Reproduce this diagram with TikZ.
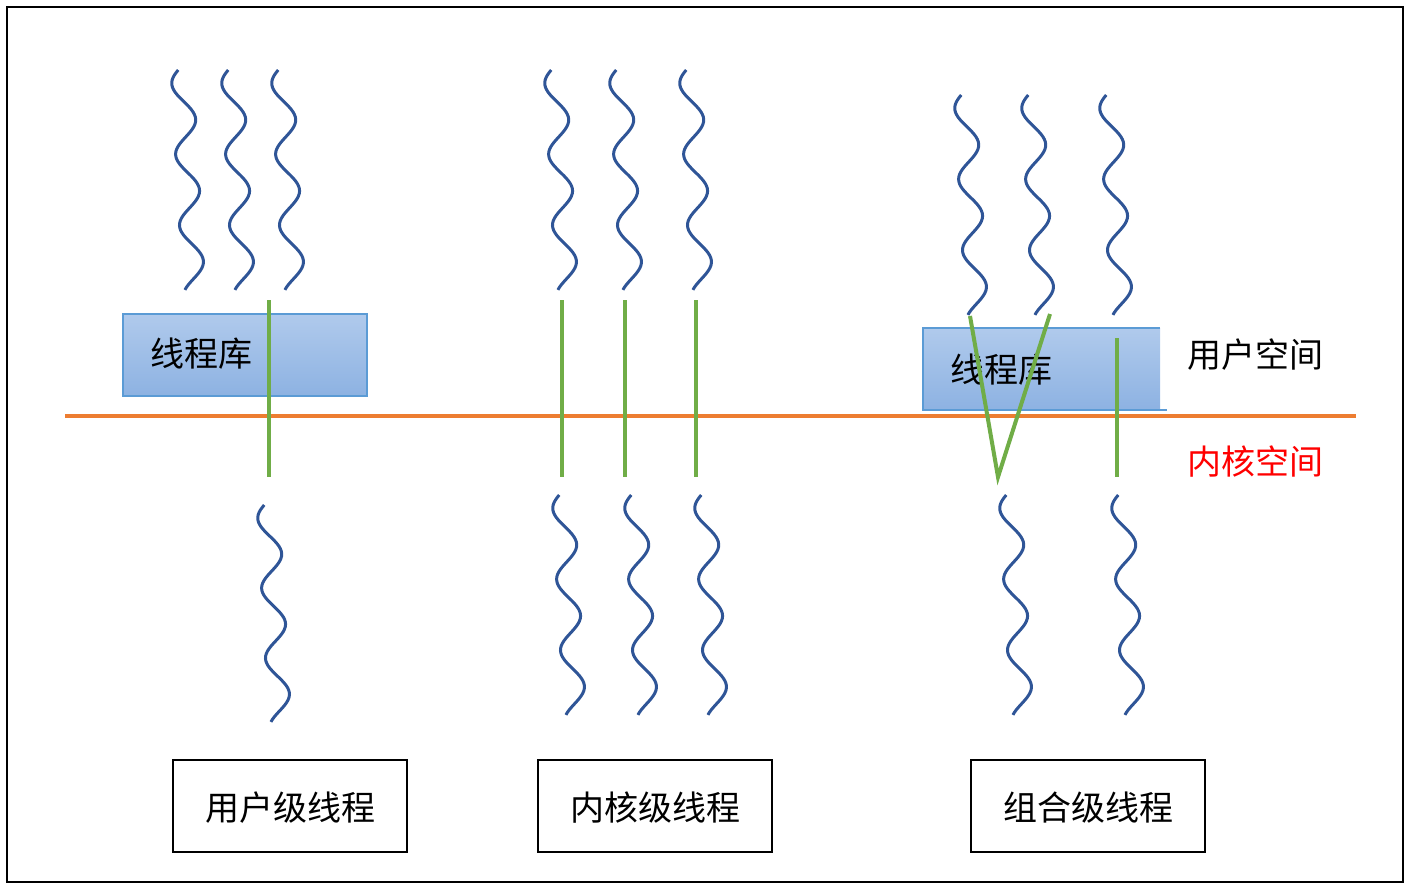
\documentclass[tikz,border=0pt]{standalone}
\usepackage{fontspec}
\setmainfont{Noto Sans CJK SC}
\begin{document}
\begin{tikzpicture}[x=0.5pt,y=-0.5pt]
\definecolor{wv}{RGB}{47,85,151}
\definecolor{gr}{RGB}{112,173,71}
\definecolor{og}{RGB}{237,125,49}
\definecolor{lbA}{RGB}{176,202,236}
\definecolor{lbB}{RGB}{141,178,226}
\definecolor{lbE}{RGB}{91,155,213}
\tikzset{
 wave/.style={wv,line width=1.5pt},
 gline/.style={gr,line width=2pt},
 lib/.style={draw=lbE,line width=0.6pt,top color=lbA,bottom color=lbB},
 kind/.style={draw=black,line width=0.6pt,minimum width=117pt,minimum height=46pt,text depth=0pt,font=\fontsize{17pt}{20pt}\selectfont},
 txt/.style={font=\fontsize{17pt}{20pt}\selectfont}
}
\newcommand{\wv}[3]{\draw[wave] plot[domain=0:1,samples=90,smooth,variable=\t] ({#1+10+11*sin(360*3.1*\t+200)+12*\t},{#2+(#3-#2)*\t});}
\useasboundingbox (0,0) rectangle (1411,888);
\draw[line width=1pt] (7,7) rectangle (1403,882);
% top waves
\foreach \p in {172,222,272} {\wv{\p}{70}{290}}
\foreach \p in {545,610,680} {\wv{\p}{70}{290}}
\foreach \p in {955,1022,1100} {\wv{\p}{95}{315}}
% bottom waves
\wv{258}{505}{722}
\foreach \p in {553,625,695} {\wv{\p}{495}{715}}
\foreach \p in {1000,1112} {\wv{\p}{495}{715}}
% libraries
\node[lib,minimum width=122pt,minimum height=41pt,inner sep=0pt] (lib1) at (245,355) {};
\node[txt] (lt1) at (201,354) {线程库};
\node[lib,draw=none,minimum width=118.5pt,minimum height=41pt,inner sep=0pt] (lib2) at (1041.5,369) {};
\draw[lbE,line width=0.6pt] (1160,328) -- (923,328) -- (923,410) -- (1167,410);
\node[txt] (lt2) at (1001,370) {线程库};
% kernel line
\coordinate (ka) at (65,416); \coordinate (kb) at (1356,416);
\draw[og,line width=2pt] (ka) -- (kb);
% green lines
\draw[gline] (269,300) -- (269,477);
\foreach \p in {562,625,696} {\draw[gline] (\p,300) -- (\p,477);}
\coordinate (va) at (970,316); \coordinate (vb) at (998,477); \coordinate (vc) at (1050,314);
\draw[gline] (va) -- (vb) -- (vc);
\draw[gline] (1117,338) -- (1117,477);
% labels
\node[txt] (us) at (1255,355) {用户空间};
\node[txt,text=red] (ks) at (1255,462) {内核空间};
\node[kind] (k1) at (290,806) {用户级线程};
\node[kind] (k2) at (655,806) {内核级线程};
\node[kind] (k3) at (1088,806) {组合级线程};
\end{tikzpicture}
\end{document}
